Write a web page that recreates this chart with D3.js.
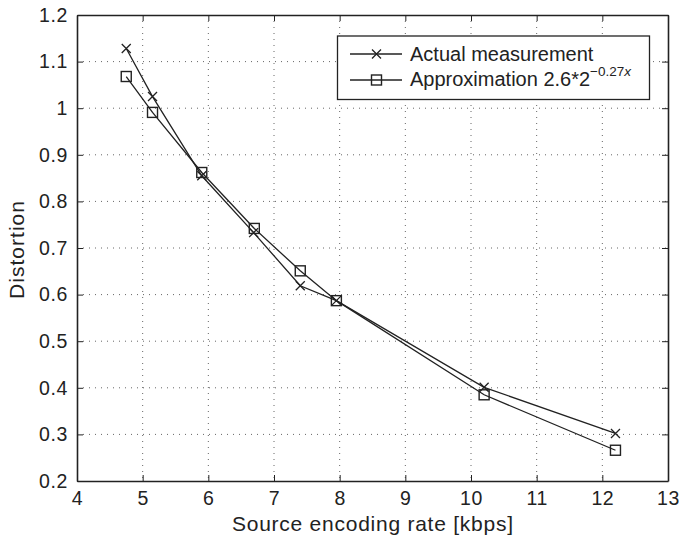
<!DOCTYPE html>
<html><head><meta charset="utf-8">
<script src="https://cdn.jsdelivr.net/npm/d3@7"></script>
<style>body{margin:0;background:#fff}svg{display:block}text{font-family:"Liberation Sans",Arial,sans-serif;fill:#222}</style>
</head><body><svg id="c" width="679" height="539"></svg>
<script>
const rates = [4.75, 5.15, 5.9, 6.69, 7.4, 7.95, 10.2, 12.2];
const actualValues = [1.128, 1.025, 0.855, 0.733, 0.619, 0.587, 0.401, 0.302];
const approxRates = [4.75, 5.15, 5.9, 6.7, 7.4, 7.95, 10.2, 12.2];
const approxValues = [1.068, 0.991, 0.862, 0.742, 0.651, 0.587, 0.385, 0.266];
const xTicks = [4, 5, 6, 7, 8, 9, 10, 11, 12, 13];
const yTicks = [0.2, 0.3, 0.4, 0.5, 0.6, 0.7, 0.8, 0.9, 1, 1.1, 1.2];
const xLabel = "Source encoding rate [kbps]";
const yLabel = "Distortion";
const legendLabels = ["Actual measurement", "Approximation 2.6*2"];

const L = 77, R = 668, T = 15, B = 481;
const svg = d3.select("#c");
const x = d3.scaleLinear().domain([4, 13]).range([L, R]);
const y = d3.scaleLinear().domain([0.2, 1.2]).range([B, T]);
const ink = "#222";

// grid
const g = svg.append("g");
g.selectAll(".gx").data(xTicks.slice(1, -1)).enter().append("line")
  .attr("x1", d => x(d)).attr("x2", d => x(d)).attr("y1", T).attr("y2", B)
  .attr("stroke", "#666").attr("stroke-width", 1).attr("stroke-dasharray", "1,5");
g.selectAll(".gy").data(yTicks.slice(1, -1)).enter().append("line")
  .attr("y1", d => y(d)).attr("y2", d => y(d)).attr("x1", L).attr("x2", R)
  .attr("stroke", "#666").attr("stroke-width", 1).attr("stroke-dasharray", "1,5");

// axes
const fmtY = d => d3.format("")(+d.toFixed(1));
const axB = svg.append("g").attr("transform", `translate(0,${B})`)
  .call(d3.axisBottom(x).tickValues(xTicks).tickSizeInner(-6).tickSizeOuter(0).tickPadding(10).tickFormat(d3.format("d")));
const axT = svg.append("g").attr("transform", `translate(0,${T})`)
  .call(d3.axisTop(x).tickValues(xTicks).tickSizeInner(-6).tickSizeOuter(0).tickFormat(""));
const axL = svg.append("g").attr("transform", `translate(${L},0)`)
  .call(d3.axisLeft(y).tickValues(yTicks).tickSizeInner(-6).tickSizeOuter(0).tickPadding(9).tickFormat(fmtY));
const axR = svg.append("g").attr("transform", `translate(${R},0)`)
  .call(d3.axisRight(y).tickValues(yTicks).tickSizeInner(-6).tickSizeOuter(0).tickFormat(""));
[axB, axT, axL, axR].forEach(a => {
  a.select(".domain").attr("stroke", ink).attr("stroke-width", 1.6);
  a.selectAll(".tick line").attr("stroke", ink).attr("stroke-width", 1);
  a.selectAll("text").attr("font-size", 19.5).attr("letter-spacing", 0.6).attr("fill", ink)
    .attr("font-family", '"Liberation Sans",Arial,sans-serif');
});

// axis labels
svg.append("text").attr("x", (L + R) / 2).attr("y", 531).attr("text-anchor", "middle")
  .attr("font-size", 21).attr("textLength", 281).attr("lengthAdjust", "spacing").text(xLabel);
svg.append("text").attr("transform", `translate(24,${(T + B) / 2 + 2}) rotate(-90)`).attr("text-anchor", "middle")
  .attr("font-size", 21).attr("textLength", 98).attr("lengthAdjust", "spacing").text(yLabel);

// lines
const line = d3.line().x(d => x(d[0])).y(d => y(d[1]));
const actual = rates.map((r, i) => [r, actualValues[i]]);
const approx = approxRates.map((r, i) => [r, approxValues[i]]);
svg.append("path").datum(actual).attr("d", line).attr("fill", "none").attr("stroke", ink).attr("stroke-width", 1.3);
svg.append("path").datum(approx).attr("d", line).attr("fill", "none").attr("stroke", ink).attr("stroke-width", 1.3);

function cross(sel, cx, cy) {
  const s = 4.5;
  sel.append("path").attr("d", `M${cx - s},${cy - s}L${cx + s},${cy + s}M${cx - s},${cy + s}L${cx + s},${cy - s}`)
    .attr("stroke", ink).attr("stroke-width", 1.3).attr("fill", "none");
}
function square(sel, cx, cy) {
  const s = 5;
  sel.append("rect").attr("x", cx - s).attr("y", cy - s).attr("width", 2 * s).attr("height", 2 * s)
    .attr("stroke", ink).attr("stroke-width", 1.4).attr("fill", "none");
}
const mk = svg.append("g");
actual.forEach(d => cross(mk, x(d[0]), y(d[1])));
approx.forEach(d => square(mk, x(d[0]), y(d[1])));

// legend
const lg = svg.append("g");
lg.append("rect").attr("x", 337.5).attr("y", 36).attr("width", 312).attr("height", 63.5)
  .attr("fill", "#fff").attr("stroke", ink).attr("stroke-width", 1.3);
[54, 80].forEach((ly, i) => {
  lg.append("line").attr("x1", 350).attr("x2", 402).attr("y1", ly).attr("y2", ly).attr("stroke", ink).attr("stroke-width", 1.3);
  if (i === 0) cross(lg, 376.5, ly); else square(lg, 376.5, ly);
});
lg.append("text").attr("x", 410).attr("y", 61).attr("font-size", 20).text(legendLabels[0]);
const t2 = lg.append("text").attr("x", 410).attr("y", 86).attr("font-size", 20).text(legendLabels[1]);
t2.append("tspan").attr("dy", -10).attr("font-size", 13.5).text("\u22120.27");
t2.append("tspan").attr("font-size", 13.5).attr("font-style", "italic").text("x");
</script></body></html>
